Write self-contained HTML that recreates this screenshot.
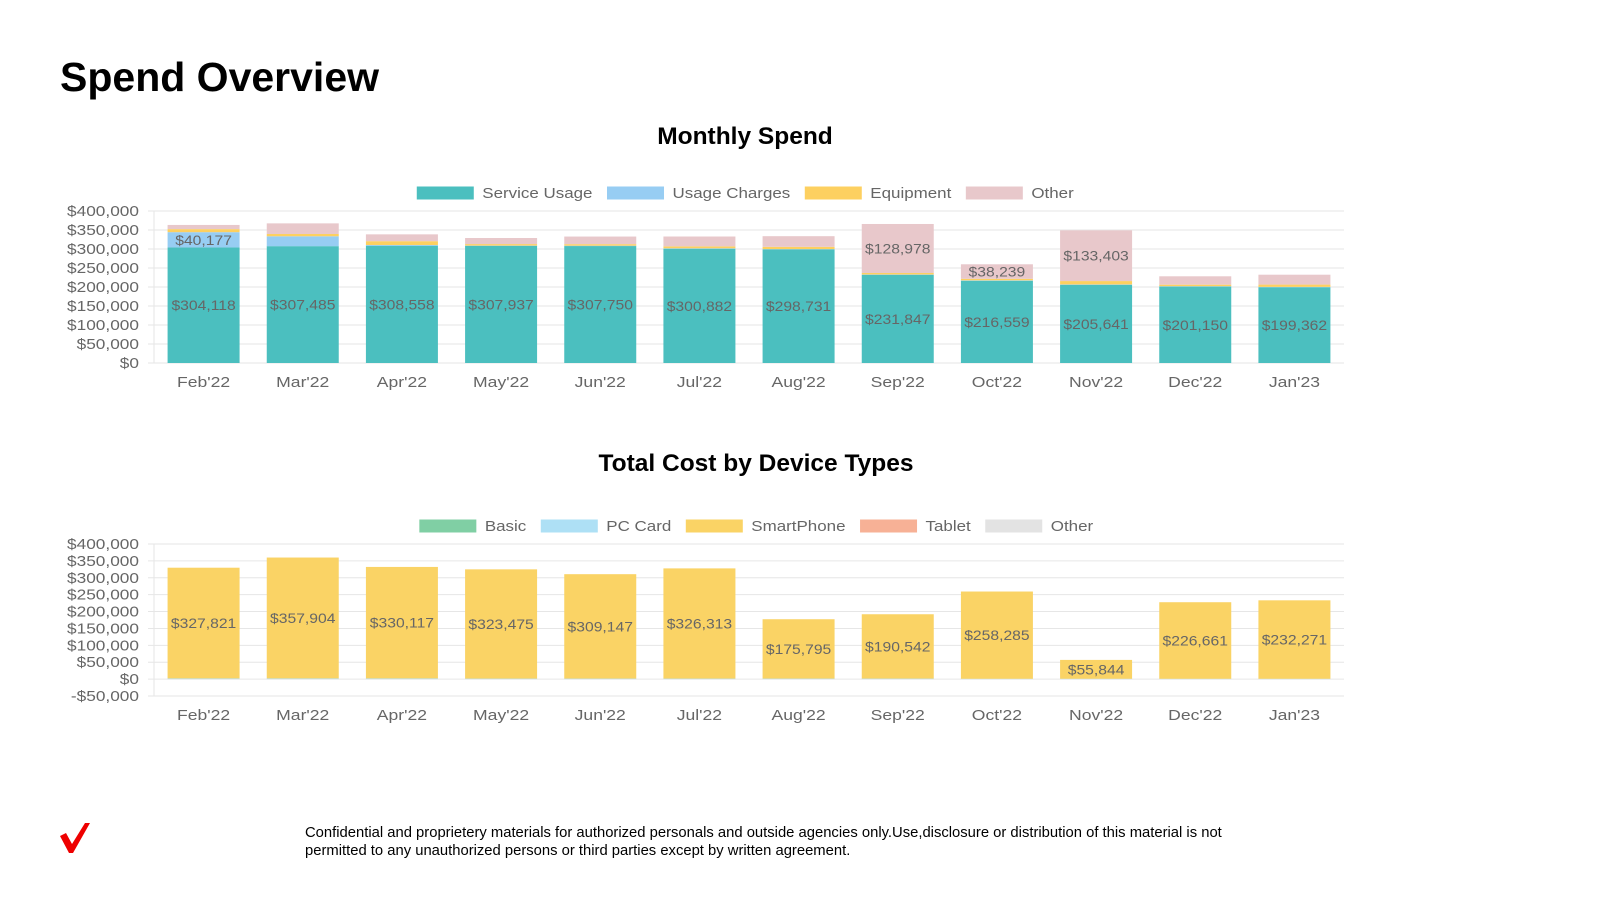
<!DOCTYPE html>
<html><head><meta charset="utf-8"><style>
body{margin:0;width:1600px;height:900px;background:#fff;font-family:"Liberation Sans",sans-serif;overflow:hidden;position:relative}
.t{position:absolute;margin:0}
</style></head><body>
<h1 class="t" style="left:60px;top:54px;font-size:41px;font-weight:bold;color:#000">Spend Overview</h1>
<svg id="s" width="1600" height="900" style="position:absolute;left:0;top:0"></svg>
<div class="t" style="left:305px;top:824px;font-size:14.8px;line-height:18px;color:#000;width:925px">Confidential and proprietery materials for authorized personals and outside agencies only.Use,disclosure or distribution of this material is not permitted to any unauthorized persons or third parties except by written agreement.</div>
<svg class="t" style="left:0;top:0" width="120" height="900"><path d="M60 836 L66 833 L72 844 L85 823 L90 823 L73 853 L69 853 Z" fill="#e00"/></svg>
<script>
const cats=["Feb'22","Mar'22","Apr'22","May'22","Jun'22","Jul'22","Aug'22","Sep'22","Oct'22","Nov'22","Dec'22","Jan'23"];
const serviceUsage=[304118,307485,308558,307937,307750,300882,298731,231847,216559,205641,201150,199362];
const usageCharges=[40177,26000,2000,1000,1000,1000,1000,1000,1000,1000,1000,1000];
const equipment=[8000,6000,10000,4000,4000,5000,6000,4000,4000,9000,4000,6000];
const otherSpend=[11000,28000,18000,16000,20000,26000,28000,128978,38239,133403,22000,26000];
const basic=[0,0,0,0,0,0,0,0,0,0,0,0];
const pcCard=[2000,2000,2000,1500,1500,1500,1500,1500,1000,1000,1000,1000];
const smartPhone=[327821,357904,330117,323475,309147,326313,175795,190542,258285,55844,226661,232271];
const tablet=[0,0,0,0,0,0,0,0,0,0,0,0];
const otherDev=[0,0,0,0,0,0,0,0,0,0,0,0];
const topTicks=[0,50000,100000,150000,200000,250000,300000,350000,400000];
const botTicks=[-50000,0,50000,100000,150000,200000,250000,300000,350000,400000];
const labelTop=[[1,1,0,0],[1,0,0,0],[1,0,0,0],[1,0,0,0],[1,0,0,0],[1,0,0,0],[1,0,0,0],[1,0,0,1],[1,0,0,1],[1,0,0,1],[1,0,0,0],[1,0,0,0]];
const NS="http://www.w3.org/2000/svg";const S=document.getElementById('s');
function el(t,a,txt){const e=document.createElementNS(NS,t);for(const k in a)e.setAttribute(k,a[k]);if(txt!==undefined)e.textContent=txt;S.appendChild(e);return e;}
function stretch(e,f){const L=e.getComputedTextLength();e.setAttribute('textLength',L*f);e.setAttribute('lengthAdjust','spacingAndGlyphs');return L*f;}
const fmt=v=>(v<0?"-$":"$")+Math.abs(v).toLocaleString('en-US');
const X0=154,X1=1344,bw=(X1-X0)/12,barW=72;
const xc=i=>X0+bw*(i+0.5);
function chart(title,ty,tx,yTop,yBot,vmin,vmax,ticks,series,names,colors,legY,labelFn){
 const t=el('text',{x:tx,y:ty,'text-anchor':'middle','font-size':24.5,'font-weight':'bold',fill:'#000'},title);
 
 const y=v=>yBot-(v-vmin)/(vmax-vmin)*(yBot-yTop);
 ticks.forEach(v=>{const l=el('line',{x1:X0-6,x2:X1,y1:y(v),y2:y(v),stroke:'#e6e6e6','stroke-width':1});
  const tt=el('text',{x:X0-15,y:y(v)+5,'text-anchor':'end','font-size':15,fill:'#666'},fmt(v));stretch(tt,1.15);});
 el('line',{x1:X0,x2:X0,y1:yTop,y2:yBot,stroke:'#e6e6e6'});
 cats.forEach((c,i)=>{const tt=el('text',{x:xc(i),y:yBot+24,'text-anchor':'middle','font-size':15,fill:'#666'},c);stretch(tt,1.17);
  let base=0;series.forEach((s,k)=>{const v=s[i];if(v<=0)return;const r=el('rect',{x:xc(i)-barW/2,y:y(base+v),width:barW,height:y(base)-y(base+v),fill:colors[k]});
   
   if(labelFn(i,k)){const lt=el('text',{x:xc(i),y:(y(base)+y(base+v))/2+5,'text-anchor':'middle','font-size':14,fill:'#666'},fmt(v));stretch(lt,1.12);}
   base+=v;});});
 // legend
 const items=[];let tot=0;
 names.forEach((n,k)=>{const r=el('rect',{y:legY-7,width:58,height:14,fill:colors[k],stroke:'#fff'});
  const lt=el('text',{y:legY+5,'font-size':15,fill:'#666'},n);
  const L=stretch(lt,1.13);items.push([r,lt,L]);tot+=58+8+L+(k<names.length-1?14:0);});
 let lx=tx-tot/2;
 items.forEach(([r,lt,L])=>{r.setAttribute('x',lx);lt.setAttribute('x',lx+66);lx+=58+8+L+14;});
}
chart('Monthly Spend',144,745,211,363,0,400000,topTicks,[serviceUsage,usageCharges,equipment,otherSpend],['Service Usage','Usage Charges','Equipment','Other'],['#4bbfbf','#97cdf3','#fdd060','#e8c8cb'],193,(i,k)=>labelTop[i][k]===1);
chart('Total Cost by Device Types',471,756,544,696,-50000,400000,botTicks,[basic,pcCard,smartPhone,tablet,otherDev],['Basic','PC Card','SmartPhone','Tablet','Other'],['#80cfa4','#aee0f5','#fad365','#f7b196','#e3e3e3'],526,(i,k)=>k===2);
</script>
</body></html>
